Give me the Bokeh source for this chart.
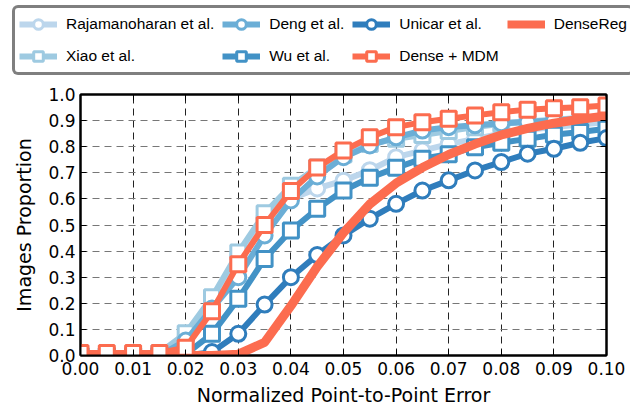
from bokeh.plotting import figure
from bokeh.layouts import column
from bokeh.models import (Legend, LegendItem, LinearAxis, FixedTicker,
                          NumeralTickFormatter, Range1d, CustomJSTickFormatter)
from bokeh.embed import file_html
from bokeh.resources import INLINE

# ---------------- data ----------------
err = [0.000, 0.005, 0.010, 0.015, 0.020, 0.025, 0.030, 0.035, 0.040, 0.045,
       0.050, 0.055, 0.060, 0.065, 0.070, 0.075, 0.080, 0.085, 0.090, 0.095, 0.100]

rajamanoharan = [0.0, 0.0, 0.0, 0.005, 0.07, 0.20, 0.38, 0.53, 0.60, 0.64,
                 0.67, 0.71, 0.76, 0.785, 0.81, 0.83, 0.85, 0.865, 0.875, 0.885, 0.895]
xiao = [0.0, 0.0, 0.0, 0.01, 0.085, 0.223, 0.395, 0.545, 0.65, 0.72,
        0.77, 0.81, 0.83, 0.845, 0.86, 0.875, 0.888, 0.897, 0.903, 0.91, 0.92]
deng = [0.0, 0.0, 0.0, 0.0, 0.057, 0.18, 0.30, 0.46, 0.594, 0.686,
        0.76, 0.805, 0.836, 0.862, 0.875, 0.882, 0.89, 0.895, 0.90, 0.905, 0.91]
wu = [0.0, 0.0, 0.0, 0.0, 0.005, 0.083, 0.217, 0.37, 0.479, 0.562,
      0.632, 0.681, 0.719, 0.754, 0.771, 0.798, 0.815, 0.83, 0.846, 0.856, 0.869]
unicar = [0.0, 0.0, 0.0, 0.0, 0.0, 0.013, 0.083, 0.195, 0.30, 0.385,
          0.46, 0.524, 0.581, 0.632, 0.671, 0.709, 0.741, 0.773, 0.792, 0.815, 0.833]
densereg = [0.0, 0.0, 0.0, 0.0, 0.0, 0.0, 0.005, 0.05, 0.19, 0.34,
            0.47, 0.58, 0.66, 0.72, 0.77, 0.81, 0.845, 0.87, 0.89, 0.905, 0.918]
dense_mdm = [0.01, 0.01, 0.01, 0.01, 0.03, 0.17, 0.35, 0.50, 0.63, 0.72,
             0.785, 0.836, 0.875, 0.894, 0.907, 0.92, 0.932, 0.942, 0.947, 0.951, 0.958]

x_ticks = [0.00, 0.01, 0.02, 0.03, 0.04, 0.05, 0.06, 0.07, 0.08, 0.09, 0.10]
y_ticks = [0.0, 0.1, 0.2, 0.3, 0.4, 0.5, 0.6, 0.7, 0.8, 0.9, 1.0]

# ---------------- styles ----------------
C_RAJ = "#bcd6ec"
C_XIAO = "#9ecae1"
C_DENG = "#6baed6"
C_WU = "#4292c6"
C_UNI = "#2f7dbc"
C_ORG = "#fc6c4f"
LW = 6
MS = 15
TICK_FONT = "DejaVu Sans"

# ---------------- main plot ----------------
p = figure(frame_width=526, frame_height=261, output_backend="svg",
           toolbar_location=None,
           x_range=Range1d(0.0, 0.1), y_range=Range1d(0.0, 1.0),
           min_border_left=80, min_border_right=22, min_border_bottom=48,
           min_border_top=14)
p.background_fill_color = "white"
p.border_fill_color = "white"
p.outline_line_color = "black"
p.outline_line_width = 2

for ax in (p.xaxis[0], p.yaxis[0]):
    ax.major_tick_in = 6
    ax.major_tick_out = 0
    ax.minor_tick_line_color = None
    ax.axis_line_width = 2
    ax.axis_line_color = "black"
    ax.major_tick_line_color = "black"
    ax.major_label_text_font = TICK_FONT
    ax.major_label_text_font_size = "17px"
    ax.major_label_text_color = "black"
    ax.axis_label_text_font = TICK_FONT
    ax.axis_label_text_font_size = "19px"
    ax.axis_label_text_font_style = "normal"
    ax.axis_label_text_color = "black"

p.xaxis.ticker = FixedTicker(ticks=x_ticks)
p.yaxis.ticker = FixedTicker(ticks=y_ticks)
p.xaxis.formatter = NumeralTickFormatter(format="0.00")
p.yaxis.formatter = NumeralTickFormatter(format="0.0")
p.xaxis.axis_label = "Normalized Point-to-Point Error"
p.yaxis.axis_label = "Images Proportion"
p.xaxis.major_label_standoff = 6
p.xaxis.axis_label_standoff = 6
p.yaxis.major_label_standoff = 5
p.yaxis.axis_label_standoff = 10

p.xgrid.ticker = FixedTicker(ticks=x_ticks)
p.ygrid.ticker = FixedTicker(ticks=y_ticks)
p.xgrid.grid_line_color = "#222222"
p.ygrid.grid_line_color = "#777777"
p.xgrid.grid_line_dash = "7 5"
p.ygrid.grid_line_dash = "7 5"

blank = CustomJSTickFormatter(code="return ''")
top = LinearAxis(ticker=FixedTicker(ticks=x_ticks), formatter=blank,
                 major_tick_in=6, major_tick_out=0, minor_tick_line_color=None,
                 axis_line_width=2, major_label_standoff=0,
                 major_label_text_font_size="2px")
right = LinearAxis(ticker=FixedTicker(ticks=y_ticks), formatter=blank,
                   major_tick_in=6, major_tick_out=0, minor_tick_line_color=None,
                   axis_line_width=2, major_label_standoff=0,
                   major_label_text_font_size="2px")
p.add_layout(top, "above")
p.add_layout(right, "right")


def series(fig, y, color, marker):
    rs = [fig.line(err, y, line_color=color, line_width=LW, line_join="round")]
    if marker:
        rs.append(fig.scatter(err, y, marker=marker, size=MS, fill_color="white",
                              line_color=color, line_width=3))
    return rs


series(p, rajamanoharan, C_RAJ, "circle")
series(p, xiao, C_XIAO, "square")
series(p, deng, C_DENG, "circle")
series(p, wu, C_WU, "square")
series(p, unicar, C_UNI, "circle")
p.line(err, densereg, line_color=C_ORG, line_width=9, line_join="round")
series(p, dense_mdm, C_ORG, "square")

# ---------------- legend strip ----------------
# The same series are plotted here against a y-range that does not contain
# them, so only the legend keys are visible in this strip.
leg = figure(width=630, height=80, output_backend="svg", toolbar_location=None,
             x_axis_type=None, y_axis_type=None, min_border=0,
             min_border_left=0, min_border_right=0, min_border_top=0,
             min_border_bottom=0,
             x_range=Range1d(0.0, 0.1), y_range=Range1d(5.0, 6.0))
leg.outline_line_color = None
leg.grid.visible = False
leg.background_fill_color = "white"
leg.border_fill_color = "white"
for fig in (leg, p):
    try:
        fig.frame_align = False
    except Exception:
        pass

k_raj = series(leg, rajamanoharan, C_RAJ, "circle")
k_deng = series(leg, deng, C_DENG, "circle")
k_uni = series(leg, unicar, C_UNI, "circle")
k_dreg = [leg.line(err, densereg, line_color=C_ORG, line_width=8)]
k_xiao = series(leg, xiao, C_XIAO, "square")
k_wu = series(leg, wu, C_WU, "square")
k_mdm = series(leg, dense_mdm, C_ORG, "square")

items = [
    LegendItem(label="Rajamanoharan et al.", renderers=k_raj),
    LegendItem(label="Deng et al.", renderers=k_deng),
    LegendItem(label="Unicar et al.", renderers=k_uni),
    LegendItem(label="DenseReg", renderers=k_dreg),
    LegendItem(label="Xiao et al.", renderers=k_xiao),
    LegendItem(label="Wu et al.", renderers=k_wu),
    LegendItem(label="Dense + MDM", renderers=k_mdm),
]
legend = Legend(items=items, orientation="horizontal", ncols=4,
                location=(12, 5), margin=0, padding=4, spacing=8,
                glyph_width=38, glyph_height=24, label_height=24,
                label_standoff=9,
                label_text_font="Liberation Sans", label_text_font_size="15.5px",
                label_text_color="black",
                border_line_color="black", border_line_width=3,
                background_fill_color="white", background_fill_alpha=1.0)
try:
    legend.border_radius = 6
except Exception:
    pass
leg.add_layout(legend, "center")

layout = column(leg, p, spacing=0)
open("out.html", "w").write(file_html(layout, INLINE))
